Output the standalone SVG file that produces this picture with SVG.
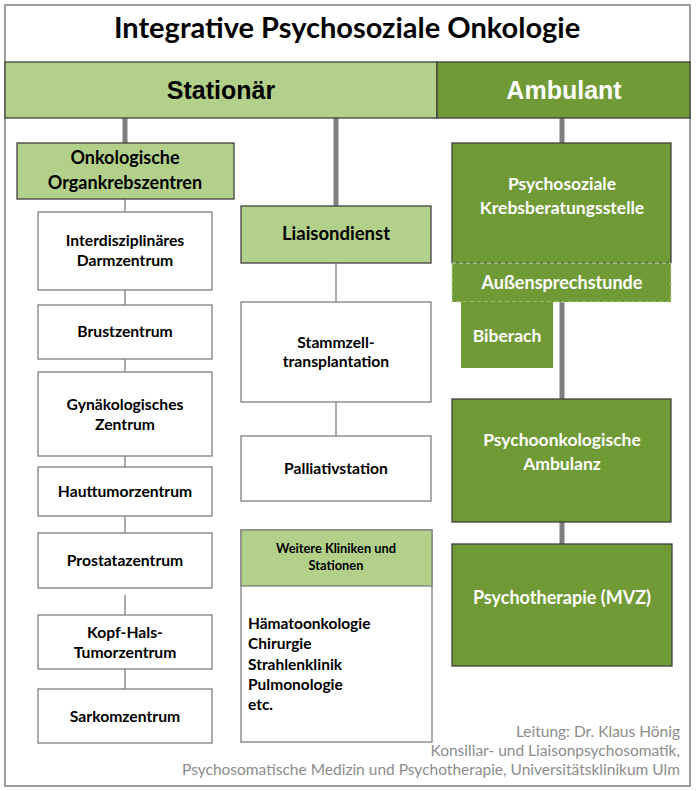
<svg xmlns="http://www.w3.org/2000/svg" width="697" height="791" viewBox="0 0 697 791">
<style>
text{font-family:Lato,"Open Sans","Liberation Sans",sans-serif;font-weight:bold;text-anchor:middle;fill:#000}
.w{fill:#fff}
.box{fill:#fff;stroke:#7f7f7f;stroke-width:1.3}
.lg{fill:#b3d08a;stroke:#404040;stroke-width:1.3}
.dg{fill:#6f9a36;stroke:#404040;stroke-width:1.3}
.thick{stroke:#7f7f7f;stroke-width:5}
.thin{stroke:#7f7f7f;stroke-width:1.3}
.n{font-size:15.7px}
.h{font-size:18px}
.foot{font-weight:normal;fill:#8c8c8c;font-size:15.5px;text-anchor:end}
.ar{font-family:"Liberation Sans",Arial,sans-serif;font-size:25px}
</style>
<rect x="0" y="0" width="697" height="791" fill="#fff"/>
<rect x="5" y="5" width="685" height="781" fill="#fff" stroke="#7f7f7f" stroke-width="1.5"/>
<g id="title"><text x="347" y="38" style="font-size:29px">Integrative Psychosoziale Onkologie</text></g>
<g id="connectors">
<line class="thick" x1="125" y1="118" x2="125" y2="143"/>
<line class="thick" x1="336" y1="118" x2="336" y2="206"/>
<line class="thick" x1="562" y1="118" x2="562" y2="143"/>
<line class="thick" x1="562" y1="302" x2="562" y2="399"/>
<line class="thick" x1="562" y1="522" x2="562" y2="544"/>
<line class="thin" x1="125" y1="199" x2="125" y2="212"/>
<line class="thin" x1="125" y1="290" x2="125" y2="305"/>
<line class="thin" x1="125" y1="359" x2="125" y2="372"/>
<line class="thin" x1="125" y1="456" x2="125" y2="467"/>
<line class="thin" x1="125" y1="516" x2="125" y2="533"/>
<line class="thin" x1="125" y1="595" x2="125" y2="615"/>
<line class="thin" x1="125" y1="669" x2="125" y2="689"/>
<line class="thin" x1="336" y1="263" x2="336" y2="302"/>
<line class="thin" x1="336" y1="402" x2="336" y2="436"/>
</g>
<g id="stationaer"><rect class="lg" x="5" y="62" width="432" height="56"/><text class="ar" x="221" y="99">Stationär</text></g>
<g id="ambulant"><rect class="dg" x="437" y="62" width="253" height="56"/><text class="ar w" x="564" y="99">Ambulant</text></g>
<g id="organkrebszentren"><rect class="lg" x="17" y="143" width="217" height="56"/><text class="h" x="125" y="164">Onkologische</text><text class="h" x="125" y="189">Organkrebszentren</text></g>
<g id="darm"><rect class="box" x="38" y="212" width="174" height="78"/><text class="n" x="125" y="246">Interdisziplinäres</text><text class="n" x="125" y="266">Darmzentrum</text></g>
<g id="brust"><rect class="box" x="38" y="305" width="174" height="54"/><text class="n" x="125" y="337">Brustzentrum</text></g>
<g id="gyn"><rect class="box" x="38" y="372" width="174" height="84"/><text class="n" x="125" y="410">Gynäkologisches</text><text class="n" x="125" y="430">Zentrum</text></g>
<g id="haut"><rect class="box" x="38" y="467" width="174" height="49"/><text class="n" x="125" y="497">Hauttumorzentrum</text></g>
<g id="prostata"><rect class="box" x="38" y="533" width="174" height="55"/><text class="n" x="125" y="566">Prostatazentrum</text></g>
<g id="kopfhals"><rect class="box" x="38" y="615" width="174" height="54"/><text class="n" x="125" y="638">Kopf-Hals-</text><text class="n" x="125" y="658">Tumorzentrum</text></g>
<g id="sarkom"><rect class="box" x="38" y="689" width="174" height="54"/><text class="n" x="125" y="722">Sarkomzentrum</text></g>
<g id="liaison"><rect class="lg" x="241" y="206" width="190" height="57"/><text x="336" y="240" style="font-size:18.5px">Liaisondienst</text></g>
<g id="stammzell"><rect class="box" x="241" y="302" width="190" height="100"/><text class="n" x="336" y="348">Stammzell-</text><text class="n" x="336" y="367">transplantation</text></g>
<g id="palliativ"><rect class="box" x="241" y="436" width="190" height="65"/><text class="n" x="336" y="474">Palliativstation</text></g>
<g id="weitere"><rect class="box" x="241" y="530" width="191" height="212"/><rect class="lg" x="241" y="530" width="191" height="56" style="stroke:#7f7f7f"/><text x="336" y="553" style="font-size:12.8px">Weitere Kliniken und</text><text x="336" y="570" style="font-size:12.8px">Stationen</text>
<text style="font-size:15.5px;text-anchor:start"><tspan x="248" y="629">Hämatoonkologie</tspan><tspan x="248" y="649">Chirurgie</tspan><tspan x="248" y="670">Strahlenklinik</tspan><tspan x="248" y="690">Pulmonologie</tspan><tspan x="248" y="710">etc.</tspan></text></g>
<g id="krebsberatung"><rect class="dg" x="452" y="143" width="219" height="120"/><text class="w" x="562" y="190" style="font-size:17.5px">Psychosoziale</text><text class="w" x="562" y="214" style="font-size:17.5px">Krebsberatungsstelle</text></g>
<g id="aussen"><rect x="452" y="263" width="219" height="39" fill="#6f9a36" stroke="#c9e0a8" stroke-width="1" stroke-dasharray="4,3"/><text class="w" x="562" y="289" style="font-size:18px">Außensprechstunde</text></g>
<g id="biberach"><rect x="461" y="302" width="92" height="66" fill="#6f9a36"/><text class="w" x="507" y="342" style="font-size:17.5px">Biberach</text></g>
<g id="psychoonk"><rect class="dg" x="452" y="399" width="219" height="123"/><text class="w" x="562" y="446" style="font-size:17.5px">Psychoonkologische</text><text class="w" x="562" y="470" style="font-size:17.5px">Ambulanz</text></g>
<g id="mvz"><rect class="dg" x="452" y="544" width="220" height="122"/><text class="w" x="562" y="604" style="font-size:18px">Psychotherapie (MVZ)</text></g>
<g id="footer"><text class="foot" x="680" y="737">Leitung: Dr. Klaus Hönig</text><text class="foot" x="680" y="756">Konsiliar- und Liaisonpsychosomatik,</text><text class="foot" x="680" y="775">Psychosomatische Medizin und Psychotherapie, Universitätsklinikum Ulm</text></g>
</svg>
